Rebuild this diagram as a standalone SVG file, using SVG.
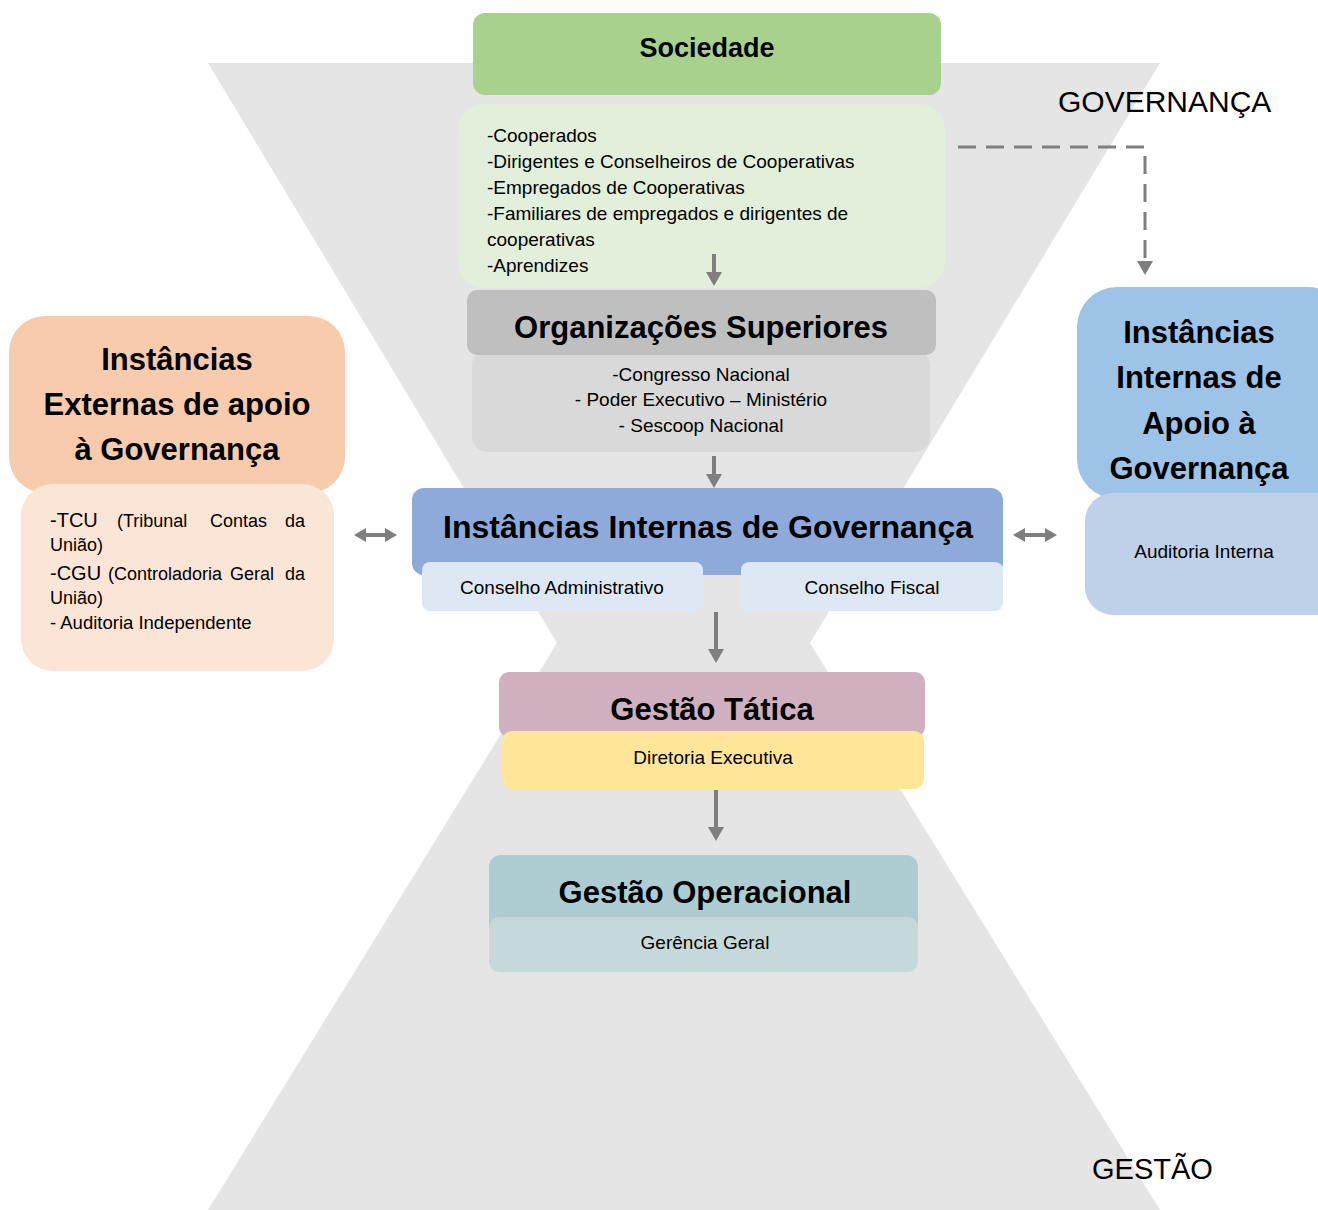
<svg xmlns="http://www.w3.org/2000/svg" width="1318" height="1210" viewBox="0 0 1318 1210">
  <defs>
    <style>
      text { font-family: "Liberation Sans", Arial, sans-serif; fill: #000; }
      .h { font-weight: bold; font-size: 31px; text-anchor: middle; }
      .b { font-size: 19px; }
      .c { text-anchor: middle; }
      .big { font-size: 30px; }
      .arrow { stroke: #7f7f7f; stroke-width: 4; fill: none; }
      .dash { stroke: #7f7f7f; stroke-width: 3; fill: none; stroke-dasharray: 18 10; }
    </style>
    <marker id="head" viewBox="0 0 14 16" refX="1" refY="8" markerWidth="14" markerHeight="16" markerUnits="userSpaceOnUse" orient="auto-start-reverse">
      <path d="M0,0 L14,8 L0,16 z" fill="#7f7f7f"/>
    </marker>
    <marker id="headSmall" viewBox="0 0 12 14" refX="1" refY="7" markerWidth="12" markerHeight="14" markerUnits="userSpaceOnUse" orient="auto-start-reverse">
      <path d="M0,0 L12,7 L0,14 z" fill="#7f7f7f"/>
    </marker>
  </defs>

  <rect width="1318" height="1210" fill="#ffffff"/>

  <!-- hourglass backdrop: governance on top, management below -->
  <polygon points="208,63 1160,63 810,643 1160,1210 208,1210 557,643" fill="#e5e5e5"/>

  <text class="big" x="1058" y="112">GOVERNANÇA</text>
  <text class="big" x="1092" y="1179" style="font-size:29px">GESTÃO</text>

  <g id="sociedade">
    <rect x="473" y="13" width="468" height="82" rx="12" fill="#a9d18e"/>
    <text class="h" x="707" y="57" style="font-size:27px">Sociedade</text>
  </g>

  <g id="sociedade-membros">
    <rect x="458" y="104" width="487" height="184" rx="25" fill="#e2efda"/>
    <text class="b" x="487" y="142">-Cooperados</text>
    <text class="b" x="487" y="168">-Dirigentes e Conselheiros de Cooperativas</text>
    <text class="b" x="487" y="194">-Empregados de Cooperativas</text>
    <text class="b" x="487" y="220">-Familiares de empregados e dirigentes de</text>
    <text class="b" x="487" y="246">cooperativas</text>
    <text class="b" x="487" y="272">-Aprendizes</text>
  </g>

  <g id="organizacoes-superiores">
    <rect x="472" y="350" width="458" height="102" rx="15" fill="#d9d9d9"/>
    <rect x="467" y="290" width="469" height="65" rx="10" fill="#bfbfbf"/>
    <text class="h" x="701" y="338">Organizações Superiores</text>
    <text class="b c" x="701" y="381">-Congresso Nacional</text>
    <text class="b c" x="701" y="406">- Poder Executivo – Ministério</text>
    <text class="b c" x="701" y="432">- Sescoop Nacional</text>
  </g>

  <g id="instancias-internas-governanca">
    <rect x="412" y="488" width="591" height="87" rx="12" fill="#8eaadb"/>
    <text class="h" x="708" y="538" style="font-size:32px">Instâncias Internas de Governança</text>
    <rect x="422" y="562" width="281" height="49" rx="8" fill="#dee8f5"/>
    <text class="b c" x="562" y="594">Conselho Administrativo</text>
    <rect x="741" y="562" width="262" height="49" rx="8" fill="#dee8f5"/>
    <text class="b c" x="872" y="594">Conselho Fiscal</text>
  </g>

  <g id="gestao-tatica">
    <rect x="499" y="672" width="426" height="65" rx="10" fill="#d0b0be"/>
    <rect x="502" y="731" width="422" height="58" rx="10" fill="#ffe699"/>
    <text class="h" x="712" y="720">Gestão Tática</text>
    <text class="b c" x="713" y="764">Diretoria Executiva</text>
  </g>

  <g id="gestao-operacional">
    <rect x="489" y="855" width="429" height="80" rx="12" fill="#adcdd3"/>
    <rect x="489" y="917" width="429" height="55" rx="10" fill="#c6d9da"/>
    <text class="h" x="705" y="903">Gestão Operacional</text>
    <text class="b c" x="705" y="949">Gerência Geral</text>
  </g>

  <g id="instancias-externas">
    <rect x="9" y="316" width="336" height="177" rx="36" fill="#f8cbad"/>
    <rect x="21" y="484" width="313" height="187" rx="32" fill="#fbe5d6"/>
    <text class="h" x="177" y="370">Instâncias</text>
    <text class="h" x="177" y="415">Externas de apoio</text>
    <text class="h" x="177" y="460">à Governança</text>
    <text style="font-size:18px">
      <tspan x="50" y="527" style="font-size:20px">-TCU</tspan>
      <tspan x="117" y="527">(Tribunal</tspan>
      <tspan x="210" y="527">Contas</tspan>
      <tspan x="305" y="527" text-anchor="end">da</tspan>
    </text>
    <text x="50" y="551" style="font-size:18px">União)</text>
    <text style="font-size:18px">
      <tspan x="50" y="580" style="font-size:20px">-CGU</tspan>
      <tspan x="108" y="580">(Controladoria</tspan>
      <tspan x="230" y="580">Geral</tspan>
      <tspan x="305" y="580" text-anchor="end">da</tspan>
    </text>
    <text x="50" y="604" style="font-size:18px">União)</text>
    <text x="50" y="629" style="font-size:18.5px">- Auditoria Independente</text>
  </g>

  <g id="instancias-internas-apoio">
    <rect x="1077" y="287" width="271" height="212" rx="40" fill="#9dc3e6"/>
    <rect x="1085" y="493" width="263" height="122" rx="28" fill="#bfd1e8"/>
    <text class="h" x="1199" y="343">Instâncias</text>
    <text class="h" x="1199" y="388">Internas de</text>
    <text class="h" x="1199" y="434">Apoio à</text>
    <text class="h" x="1199" y="479">Governança</text>
    <text class="b c" x="1204" y="558">Auditoria Interna</text>
  </g>

  <g id="connectors">
    <line class="arrow" x1="714" y1="254" x2="714" y2="273" marker-end="url(#head)"/>
    <line class="arrow" x1="714" y1="456" x2="714" y2="475" marker-end="url(#head)"/>
    <line class="arrow" x1="716" y1="612" x2="716" y2="650" marker-end="url(#head)"/>
    <line class="arrow" x1="716" y1="790" x2="716" y2="828" marker-end="url(#head)"/>
    <line class="arrow" x1="365" y1="535" x2="386" y2="535" marker-start="url(#headSmall)" marker-end="url(#headSmall)"/>
    <line class="arrow" x1="1024" y1="535" x2="1046" y2="535" marker-start="url(#headSmall)" marker-end="url(#headSmall)"/>
    <path class="dash" d="M958,147 H1145 V262" marker-end="url(#head)"/>
  </g>
</svg>
